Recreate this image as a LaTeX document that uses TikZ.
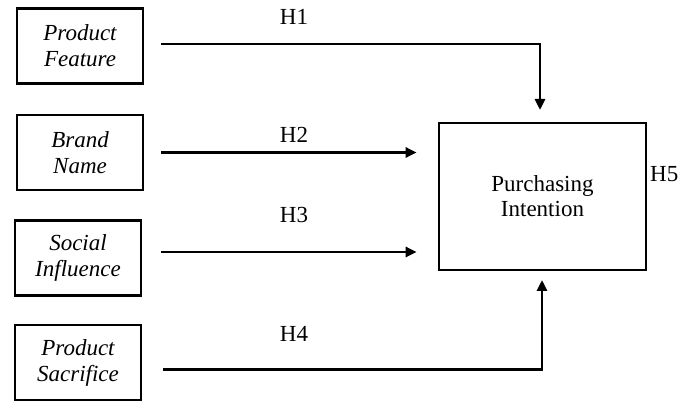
\documentclass[tikz,border=0pt]{standalone}
\usepackage{fontspec}
\setmainfont{Liberation Serif}
\usetikzlibrary{arrows.meta}
\tikzset{
	varbox/.style={draw,line width=2.7pt,minimum width=126pt,minimum height=75pt,align=center,font=\fontsize{23}{26}\selectfont\itshape},
	link/.style={line width=2.7pt,-{Triangle[length=11pt,width=10pt]}},
	hyp/.style={anchor=base,font=\fontsize{23}{26}\selectfont}
}
\begin{document}
	\begin{tikzpicture}[x=1pt,y=1pt]
		\useasboundingbox (0,0) rectangle (678,402);
		\node[varbox] (pf) at (80,356) {Product\\Feature};
		\node[varbox] (bn) at (80,249.5) {Brand\\Name};
		\node[varbox] (si) at (78,144) {Social\\Influence};
		\node[varbox] (ps) at (78,39.5) {Product\\Sacrifice};
		\node[varbox,font=\fontsize{23}{25}\selectfont,minimum width=207pt,minimum height=147pt] (pi) at (542.5,205.5) {Purchasing\\Intention};
		% paths into the outcome box
		\coordinate (t1) at (540,292);
		\coordinate (t4) at (542,122);
		\draw[link] ([xshift=17pt,yshift=2pt]pf.east) -| (t1);
		\draw[link] ([xshift=17pt]bn.east) -- ([xshift=-21pt]pi.west |- bn.east);
		\draw[link] ([xshift=19pt,yshift=6pt]si.east) -- ([xshift=-21pt,yshift=6pt]pi.west |- si.east);
		\draw[link] ([xshift=21pt,yshift=-7pt]ps.east) -| (t4);
		\node[hyp] (h1) at (294,377) {H1};
		\node[hyp] (h2) at (294,259) {H2};
		\node[hyp] (h3) at (294,179) {H3};
		\node[hyp] (h4) at (294,60) {H4};
		\node[hyp,anchor=base west,inner sep=0pt] (h5) at (650,220) {H5};
	\end{tikzpicture}
\end{document}
